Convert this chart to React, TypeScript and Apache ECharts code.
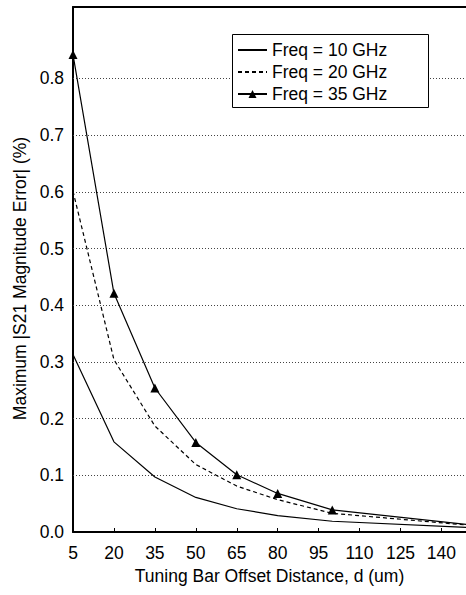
import React, { useEffect, useRef } from "react";
import * as echarts from "echarts";

const xValues = [5, 20, 35, 50, 65, 80, 100, 150];
const freq10 = [0.313, 0.159, 0.097, 0.061, 0.041, 0.029, 0.019, 0.008];
const freq20 = [0.601, 0.304, 0.187, 0.119, 0.081, 0.057, 0.033, 0.012];
const freq35 = [0.842, 0.421, 0.254, 0.158, 0.101, 0.068, 0.039, 0.013];
const seriesNames = ["Freq = 10 GHz", "Freq = 20 GHz", "Freq = 35 GHz"];
const gridValues = [0.1, 0.2, 0.3, 0.4, 0.5, 0.6, 0.7, 0.8];

const FONT = "Liberation Sans, Arial, sans-serif";

export default function App() {
  const ref = useRef<HTMLDivElement>(null);
  useEffect(() => {
    if (!ref.current) return;
    const chart = echarts.init(ref.current, null, { renderer: "svg" });
    const pairs = (ys: number[]) => xValues.map((x, i) => [x, ys[i]]);
    chart.setOption({
      animation: false,
      backgroundColor: "#fff",
      textStyle: { fontFamily: FONT },
      grid: { left: 73, right: 0, top: 7, bottom: 63 },
      graphic: [
        {
          type: "rect",
          z: 3,
          silent: true,
          shape: { x: 232.5, y: 34.5, width: 196, height: 73 },
          style: { fill: "#fff", stroke: "#000", lineWidth: 1 },
        },
      ],
      legend: {
        left: 233,
        top: 35,
        z: 4,
        orient: "vertical",
        data: [
          { name: seriesNames[0], itemStyle: { opacity: 0 } },
          { name: seriesNames[1], itemStyle: { opacity: 0 } },
          { name: seriesNames[2] },
        ],
        padding: [6, 4, 6, 4],
        itemWidth: 29,
        itemHeight: 10,
        itemGap: 4,
        textStyle: {
          fontFamily: FONT,
          fontSize: 17.5,
          color: "#000",
          lineHeight: 18,
        },
      },
      xAxis: [
        {
          type: "value",
          min: 5,
          max: 149,
          interval: 15,
          axisLine: { show: true, onZero: false, lineStyle: { color: "#000", width: 2 } },
          axisTick: { show: true, inside: true, length: 4, lineStyle: { color: "#000" } },
          axisLabel: {
            show: true,
            showMaxLabel: false,
            margin: 12,
            fontFamily: FONT,
            fontSize: 17.5,
            color: "#000",
          },
          splitLine: { show: false },
          name: "Tuning Bar Offset Distance, d (um)",
          nameLocation: "middle",
          nameGap: 28,
          nameTextStyle: { fontFamily: FONT, fontSize: 17.5, color: "#000" },
        },
        {
          type: "value",
          position: "top",
          min: 5,
          max: 149,
          axisLine: { show: true, onZero: false, lineStyle: { color: "#000", width: 2 } },
          axisTick: { show: false },
          axisLabel: { show: false },
          splitLine: { show: false },
        },
      ],
      yAxis: {
        type: "value",
        min: 0,
        max: 0.926,
        interval: 0.1,
        axisLine: { show: true, onZero: false, lineStyle: { color: "#000", width: 2 } },
        axisTick: { show: false },
        axisLabel: {
          margin: 9,
          fontFamily: FONT,
          fontSize: 17.5,
          color: "#000",
          padding: [8, 0, 0, 0],
          formatter: (v: number) => (v > 0.85 ? "" : v.toFixed(1)),
        },
        splitLine: { show: false },
        name: "Maximum |S21 Magnitude Error| (%)",
        nameLocation: "middle",
        nameGap: 35,
        nameTextStyle: { fontFamily: FONT, fontSize: 17.5, color: "#000", padding: [0, 18, 0, 0] },
      },
      series: [
        {
          name: seriesNames[0],
          type: "line",
          data: pairs(freq10),
          symbol: "none",
          clip: true,
          lineStyle: { color: "#000", width: 1.2 },
          itemStyle: { color: "#000" },
          z: 2,
          markLine: {
            silent: true,
            symbol: ["none", "none"],
            label: { show: false },
            lineStyle: { color: "#444", width: 1, type: [1, 2] },
            data: gridValues.map((v) => ({ yAxis: v })),
            z: 1,
          },
        },
        {
          name: seriesNames[1],
          type: "line",
          data: pairs(freq20),
          symbol: "none",
          clip: true,
          lineStyle: { color: "#000", width: 1.2, type: [4, 3] },
          itemStyle: { color: "#000" },
          z: 2,
        },
        {
          name: seriesNames[2],
          type: "line",
          data: pairs(freq35),
          symbol: "triangle",
          symbolSize: 9,
          clip: true,
          lineStyle: { color: "#000", width: 1.2 },
          itemStyle: { color: "#000" },
          z: 2,
        },
      ],
    });
    return () => chart.dispose();
  }, []);
  return (
    <div
      ref={ref}
      style={{ position: "fixed", left: 0, top: 0, width: 466, height: 595 }}
    />
  );
}
